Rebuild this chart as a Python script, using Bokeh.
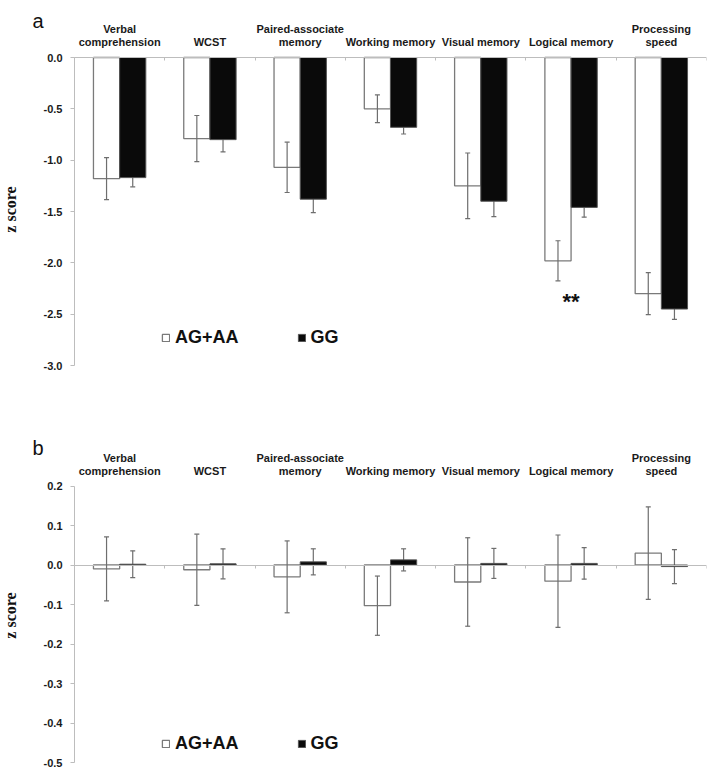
import numpy as np
from bokeh.plotting import figure
from bokeh.models import (ColumnDataSource, Range1d, LinearAxis, FixedTicker,
                          NumeralTickFormatter, Whisker, TeeHead, Label, Legend, LegendItem)
from bokeh.layouts import column
from bokeh.embed import file_html
from bokeh.resources import INLINE
from bokeh.core.properties import value

# ---------------- data ----------------
categories = ["Verbal\ncomprehension", "WCST", "Paired-associate\nmemory",
              "Working memory", "Visual memory", "Logical memory", "Processing\nspeed"]
groups = ["AG+AA", "GG"]

# panel a
a_agaa_mean = [-1.18, -0.79, -1.07, -0.50, -1.25, -1.98, -2.30]
a_agaa_se = [0.205, 0.225, 0.245, 0.135, 0.32, 0.195, 0.205]
a_gg_mean = [-1.17, -0.80, -1.38, -0.68, -1.40, -1.46, -2.45]
a_gg_se = [0.09, 0.12, 0.13, 0.065, 0.15, 0.095, 0.10]
a_ticks = [-3.0, -2.5, -2.0, -1.5, -1.0, -0.5, 0.0]
a_signif = ["", "", "", "", "", "**", ""]

# panel b
b_agaa_mean = [-0.010, -0.012, -0.030, -0.103, -0.043, -0.041, 0.030]
b_agaa_se = [0.081, 0.090, 0.091, 0.075, 0.112, 0.117, 0.117]
b_gg_mean = [0.002, 0.003, 0.008, 0.013, 0.004, 0.004, -0.004]
b_gg_se = [0.034, 0.038, 0.033, 0.028, 0.038, 0.040, 0.043]
b_ticks = [-0.5, -0.4, -0.3, -0.2, -0.1, 0.0, 0.1, 0.2]

SANS = "Liberation Sans"
SERIF = "Liberation Serif"
AXIS_GRAY = "#bdbdbd"
ERR_GRAY = "#6e6e6e"

LEFT_PX = 74.0      # pixel position of the y axis inside the frame
CAT_PX = 632.0 / 7  # pixels per category


def make_panel(letter, m1, s1, m2, s2, ticks, fmt, height,
               zero_px, min_px, legend_y, title_mid_px, letter_px,
               signif=None, signif_px=None):
    n = len(categories)
    k = (min_px - zero_px) / (-min(ticks))      # pixels per unit
    y_end = zero_px / k
    y_start = -(height - zero_px) / k
    top_val = max(ticks)
    x_start = -LEFT_PX / CAT_PX

    p = figure(width=707, height=height, output_backend="svg", toolbar_location=None,
               x_range=Range1d(x_start, n), y_range=Range1d(y_start, y_end),
               min_border_left=0, min_border_right=1, min_border_top=0,
               min_border_bottom=0, x_axis_location=None,
               y_axis_location=None)
    p.outline_line_color = None
    p.xgrid.visible = False
    p.ygrid.visible = False
    p.background_fill_color = "white"
    p.border_fill_color = "white"

    idx = np.arange(n)
    bw = 0.29
    x1 = idx + 0.5 - bw / 2
    x2 = idx + 0.5 + bw / 2

    src1 = ColumnDataSource(dict(x=x1, top=m1, upper=np.array(m1) + np.array(s1),
                                 lower=np.array(m1) - np.array(s1)))
    src2 = ColumnDataSource(dict(x=x2, top=m2, upper=np.array(m2) + np.array(s2),
                                 lower=np.array(m2) - np.array(s2)))

    r1 = p.vbar(x="x", top="top", bottom=0, width=bw, source=src1,
                fill_color="white", line_color="#7a7a7a", line_width=1.3)
    r2 = p.vbar(x="x", top="top", bottom=0, width=bw, source=src2,
                fill_color="#0a0a0a", line_color="#555555", line_width=1.0)

    w2 = Whisker(base="x", upper="upper", lower="lower", source=src2,
                 line_color=ERR_GRAY, line_width=1.2, level="underlay",
                 upper_head=TeeHead(size=5, line_color=ERR_GRAY, line_width=1.2),
                 lower_head=TeeHead(size=5, line_color=ERR_GRAY, line_width=1.2))
    w1 = Whisker(base="x", upper="upper", lower="lower", source=src1,
                 line_color=ERR_GRAY, line_width=1.2, level="overlay",
                 upper_head=TeeHead(size=5, line_color=ERR_GRAY, line_width=1.2),
                 lower_head=TeeHead(size=5, line_color=ERR_GRAY, line_width=1.2))
    p.add_layout(w2)
    p.add_layout(w1)

    # y axis, drawn at x = 0 inside the frame
    yax = LinearAxis(ticker=FixedTicker(ticks=ticks), formatter=NumeralTickFormatter(format=fmt),
                     bounds=(min(ticks), max(ticks)), fixed_location=0)
    yax.axis_line_color = AXIS_GRAY
    yax.major_tick_line_color = AXIS_GRAY
    yax.major_tick_out = 4
    yax.major_tick_in = 0
    yax.minor_tick_line_color = None
    yax.major_label_standoff = 8
    yax.major_label_text_font = SANS
    yax.major_label_text_font_style = "bold"
    yax.major_label_text_font_size = "11px"
    yax.major_label_text_color = "#1a1a1a"
    p.add_layout(yax, "left")

    # x axis line at zero, ticks at category boundaries
    xax = LinearAxis(ticker=FixedTicker(ticks=list(range(n + 1))), bounds=(0, n),
                     fixed_location=0)
    xax.major_label_overrides = {i: "" for i in range(n + 1)}
    xax.axis_line_color = AXIS_GRAY
    xax.major_tick_line_color = AXIS_GRAY
    xax.major_tick_in = 3
    xax.major_tick_out = 0
    xax.minor_tick_line_color = None
    p.add_layout(xax, "above")

    # category labels above
    row1 = [c.split("\n")[0] if "\n" in c else "" for c in categories]
    row2 = [c.split("\n")[-1] for c in categories]
    y_row2 = top_val + 15.5 / k
    y_row1 = top_val + 28.5 / k
    for yy, rows in ((y_row1, row1), (y_row2, row2)):
        p.text(x=idx + 0.5, y=[yy] * n, text=rows, text_align="center",
               text_baseline="alphabetic", text_font=value(SANS), text_font_style="bold",
               text_font_size="11px", text_color="#1a1a1a")

    if signif is not None:
        p.text(x=idx + 0.5, y=[-signif_px / k] * n, text=signif, text_align="center",
               text_baseline="alphabetic", text_font=value(SANS), text_font_style="bold",
               text_font_size="22px", text_color="#111111")

    # panel letter and axis title
    p.add_layout(Label(x=(32 - LEFT_PX) / CAT_PX, y=(zero_px - letter_px) / k,
                       text=letter, text_font=SANS,
                       text_font_size="20px", text_align="left", text_baseline="alphabetic",
                       text_color="#111111"))
    p.add_layout(Label(x=(10 - LEFT_PX) / CAT_PX, y=-(title_mid_px - zero_px) / k,
                       text="z score", angle=np.pi / 2,
                       text_font=SERIF, text_font_style="bold", text_font_size="16px",
                       text_align="center", text_baseline="middle", text_color="#111111"))

    legend = Legend(items=[LegendItem(label=groups[0], renderers=[r1]),
                           LegendItem(label=groups[1], renderers=[r2])],
                    location=(161, legend_y), orientation="horizontal",
                    glyph_width=9, glyph_height=9, label_standoff=5, spacing=58,
                    padding=0, margin=0, border_line_color=None,
                    background_fill_alpha=0, label_text_font=SANS,
                    label_text_font_style="bold", label_text_font_size="18px",
                    label_text_color="#111111")
    p.add_layout(legend)
    return p


pa = make_panel("a", a_agaa_mean, a_agaa_se, a_gg_mean, a_gg_se, a_ticks, "0.0",
                height=371, zero_px=57, min_px=365, legend_y=23,
                title_mid_px=209, letter_px=20,
                signif=a_signif, signif_px=244)
pb = make_panel("b", b_agaa_mean, b_agaa_se, b_gg_mean, b_gg_se, b_ticks, "0.0",
                height=400, zero_px=193.5, min_px=391, legend_y=17,
                title_mid_px=615 - 371, letter_px=447 - 371)

layout = column(pa, pb, spacing=0)
open("out.html", "w").write(file_html(layout, INLINE))
